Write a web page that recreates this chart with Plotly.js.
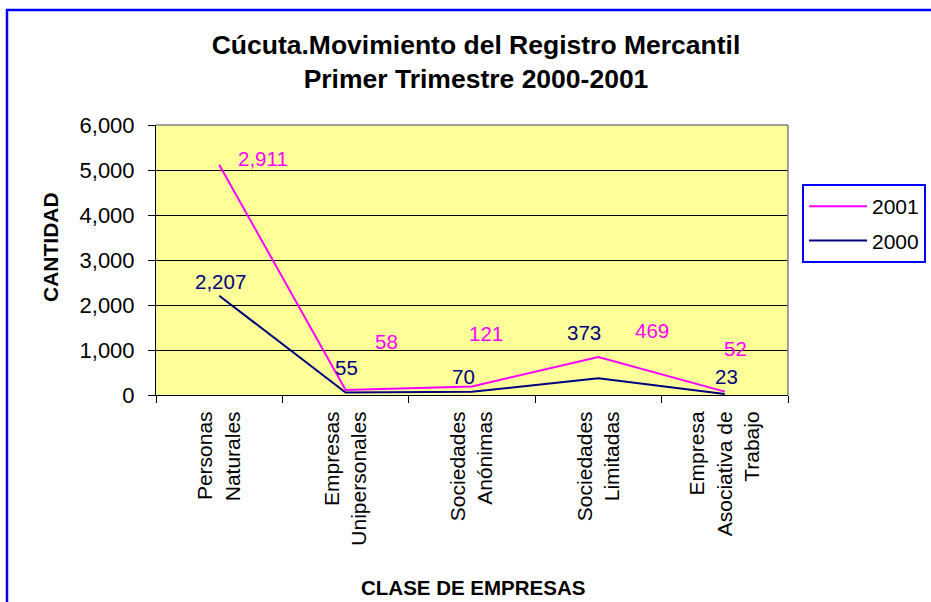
<!DOCTYPE html>
<html>
<head>
<meta charset="utf-8">
<script src="https://cdn.plot.ly/plotly-3.0.1.min.js"></script>
<style>
  html, body { margin: 0; padding: 0; background: #ffffff; }
  #chart { width: 931px; height: 602px; }
</style>
</head>
<body>
<div id="chart"></div>
<script>
// ---- data ----
var categories = [
  "Personas<br>Naturales",
  "Empresas<br>Unipersonales",
  "Sociedades<br>Anónimas",
  "Sociedades<br>Limitadas",
  "Empresa<br>Asociativa de<br>Trabajo"
];
var values2000 = [2207, 55, 70, 373, 23];
var values2001 = [2911, 58, 121, 469, 52];
var seriesNames = ["2000", "2001"];
var yTicks = [0, 1000, 2000, 3000, 4000, 5000, 6000];

// ---- style / layout config ----
var FONT = "Liberation Sans, Arial, sans-serif";
var W = 931, H = 602;
var PL = 156, PR = 788, PT = 125, PB = 395;
var pw = PR - PL, ph = PB - PT;
function px2x(px) { return (px - PL) / pw; }
function px2y(py) { return (PB - py) / ph; }

// label pixel offsets (as in the original Excel chart)
var off2000 = [[1, 14], [1, 25], [-9, 15], [-14, 46], [2, 17]];
var off2001 = [[44, 6], [41, 48], [14, 53], [54, 27], [11, 43]];

var idx = categories.map(function (c, i) { return i; });
function fmt(v) { return v.toLocaleString("en-US"); }

var traces = [
  {
    x: categories, y: values2000, name: seriesNames[0], type: "scatter", mode: "lines",
    stackgroup: "s", fill: "none", legendgroup: "a", legendrank: 2,
    line: { color: "#000080", width: 2 }, hoverinfo: "skip"
  },
  {
    x: categories, y: values2001, name: seriesNames[1], type: "scatter", mode: "lines",
    stackgroup: "s", fill: "none", legendgroup: "b", legendrank: 1,
    line: { color: "#FF00FF", width: 2 }, hoverinfo: "skip"
  }
];

var annotations = [];
idx.forEach(function (i) {
  annotations.push({
    x: categories[i], y: values2000[i], xref: "x", yref: "y", text: fmt(values2000[i]),
    showarrow: false, xanchor: "center", yanchor: "middle",
    xshift: off2000[i][0], yshift: off2000[i][1],
    font: { family: FONT, size: 20.5, color: "#000080" }
  });
  annotations.push({
    x: categories[i], y: values2000[i] + values2001[i], xref: "x", yref: "y", text: fmt(values2001[i]),
    showarrow: false, xanchor: "center", yanchor: "middle",
    xshift: off2001[i][0], yshift: off2001[i][1],
    font: { family: FONT, size: 20.5, color: "#FF00FF" }
  });
});
annotations.push({
  xref: "paper", yref: "paper", x: px2x(50), y: px2y(247), text: "<b>CANTIDAD</b>",
  textangle: -90, showarrow: false, xanchor: "center", yanchor: "middle",
  font: { family: FONT, size: 21, color: "#000000" }
});
annotations.push({
  xref: "paper", yref: "paper", x: px2x(473), y: px2y(587), text: "<b>CLASE DE EMPRESAS</b>",
  showarrow: false, xanchor: "center", yanchor: "middle",
  font: { family: FONT, size: 20.5, color: "#000000" }
});

var layout = {
  width: W, height: H,
  margin: { l: PL, r: W - PR, t: PT, b: H - PB, pad: 0, autoexpand: false },
  paper_bgcolor: "rgba(0,0,0,0)",
  plot_bgcolor: "#FFFF99",
  font: { family: FONT, size: 20, color: "#000000" },
  title: {
    text: "<b>Cúcuta.Movimiento del Registro Mercantil<br>Primer Trimestre 2000-2001</b>",
    font: { family: FONT, size: 26.5, color: "#000000" },
    xref: "container", x: 476 / W, xanchor: "center",
    yref: "container", y: 1 - 53.5 / H, yanchor: "middle"
  },
  xaxis: {
    type: "category", range: [-0.5, categories.length - 0.5],
    tickson: "boundaries", ticks: "outside", ticklen: 7, tickcolor: "#000000", tickwidth: 1,
    showline: true, linecolor: "#000000", linewidth: 1,
    showgrid: false, zeroline: false, tickangle: -90, ticklabelstandoff: 7,
    tickfont: { family: FONT, size: 21, color: "#000000" },
    fixedrange: true
  },
  yaxis: {
    range: [0, 6000], tickvals: yTicks, tickformat: ",d",
    ticks: "outside", ticklen: 7, tickcolor: "#000000", tickwidth: 1,
    showline: true, linecolor: "#000000", linewidth: 1,
    showgrid: true, gridcolor: "#000000", gridwidth: 1, zeroline: false,
    ticklabelstandoff: 9,
    tickfont: { family: FONT, size: 22, color: "#000000" },
    fixedrange: true
  },
  showlegend: true,
  legend: {
    xref: "container", yref: "container",
    x: 802 / W, y: 1 - 184 / H, xanchor: "left", yanchor: "top",
    bgcolor: "#FFFFFF", bordercolor: "#0000FF", borderwidth: 2,
    traceorder: "grouped", tracegroupgap: 4, itemwidth: 58,
    entrywidth: 122, entrywidthmode: "pixels",
    font: { family: FONT, size: 21, color: "#000000" }
  },
  annotations: annotations,
  shapes: [
    { type: "line", xref: "paper", yref: "paper", x0: 0, x1: 1, y0: 1, y1: 1,
      line: { color: "#808080", width: 1.5 }, layer: "above" },
    { type: "line", xref: "paper", yref: "paper", x0: 1, x1: 1, y0: 0, y1: 1,
      line: { color: "#808080", width: 1.5 }, layer: "above" },
    { type: "rect", xref: "paper", yref: "paper",
      x0: px2x(7), x1: px2x(960), y0: px2y(640), y1: px2y(10),
      line: { color: "#0000FF", width: 2.5 }, fillcolor: "rgba(0,0,0,0)", layer: "above" }
  ]
};

Plotly.newPlot("chart", traces, layout, { staticPlot: true, displayModeBar: false });
</script>
</body>
</html>
